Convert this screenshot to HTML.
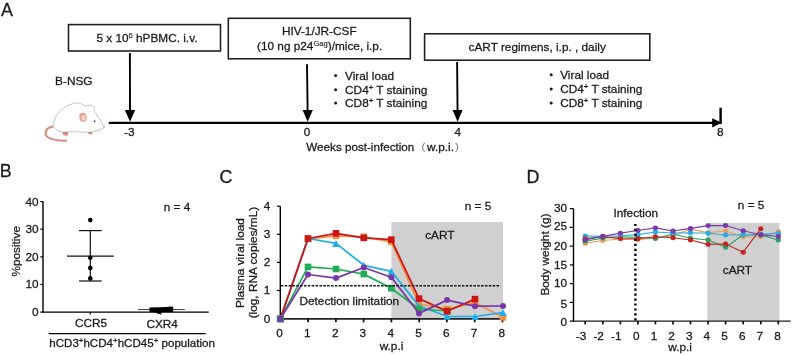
<!DOCTYPE html>
<html><head><meta charset="utf-8"><style>
html,body{margin:0;padding:0;background:#fff;}
svg{display:block;font-family:"Liberation Sans", sans-serif;will-change:transform;} text{stroke:#1a1a1a;stroke-width:0.28px;}
</style></head><body>
<svg width="792" height="355" viewBox="0 0 792 355">
<text x="1" y="15.8" font-size="17.9" fill="#1a1a1a">A</text>
<rect x="68.5" y="24.6" width="152" height="26.4" fill="none" stroke="#222" stroke-width="1.6"/>
<rect x="228.3" y="18.3" width="182" height="40.5" fill="none" stroke="#222" stroke-width="1.6"/>
<rect x="424.6" y="33.8" width="225.2" height="26.4" fill="none" stroke="#222" stroke-width="1.6"/>
<text x="96.4" y="41.9" font-size="11.8" fill="#1a1a1a">5 x 10<tspan font-size="7.6" dy="-4" stroke-width="0.12">6</tspan><tspan dy="4"> hPBMC. i.v.</tspan></text>
<text x="319.3" y="35.2" font-size="11.8" fill="#1a1a1a" text-anchor="middle">HIV-1/JR-CSF</text>
<text x="257" y="50.3" font-size="11.8" fill="#1a1a1a">(10 ng p24<tspan font-size="7.6" dy="-4" stroke-width="0.12">Gag</tspan><tspan dy="4">)/mice, i.p.</tspan></text>
<text x="537.2" y="51.2" font-size="11.8" fill="#1a1a1a" text-anchor="middle">cART regimens, i.p. , daily</text>
<line x1="129.9" y1="53" x2="130" y2="116" stroke="#000" stroke-width="1.9"/>
<polygon points="124.9,110.1 135.1,110.1 130,121.8" fill="#000"/>
<line x1="307" y1="64.3" x2="307.7" y2="116" stroke="#000" stroke-width="1.9"/>
<polygon points="302.59999999999997,110.1 312.8,110.1 307.7,121.8" fill="#000"/>
<line x1="457.1" y1="61.9" x2="457.6" y2="116" stroke="#000" stroke-width="1.9"/>
<polygon points="452.5,110.1 462.70000000000005,110.1 457.6,121.8" fill="#000"/>
<line x1="108.8" y1="122.9" x2="714" y2="122.9" stroke="#000" stroke-width="2.3"/>
<polygon points="712.2,118.2 721.8,122.8 712.2,127.6" fill="#000"/>
<line x1="720.6" y1="107.7" x2="720.6" y2="124" stroke="#000" stroke-width="2.4"/>
<text x="129.3" y="136.3" font-size="11.8" fill="#1a1a1a" text-anchor="middle">-3</text>
<text x="307" y="136.3" font-size="11.8" fill="#1a1a1a" text-anchor="middle">0</text>
<text x="457.8" y="136.3" font-size="11.8" fill="#1a1a1a" text-anchor="middle">4</text>
<text x="720.3" y="136.3" font-size="11.8" fill="#1a1a1a" text-anchor="middle">8</text>
<text x="306.3" y="151" font-size="11.66" fill="#1a1a1a">Weeks post-infection</text>
<path d="M424.6,142.9 Q420.6,147.3 424.6,151.7" fill="none" stroke="#444" stroke-width="0.8"/>
<text x="427.1" y="151" font-size="11.8" fill="#1a1a1a">w.p.i.</text>
<path d="M455.8,142.9 Q459.8,147.3 455.8,151.7" fill="none" stroke="#444" stroke-width="0.8"/>
<circle cx="335.6" cy="75.6" r="1.5" fill="#1a1a1a"/>
<text x="345.1" y="79.8" font-size="11.8" fill="#1a1a1a">Viral load</text>
<circle cx="335.6" cy="89.7" r="1.5" fill="#1a1a1a"/>
<text x="345.1" y="93.9" font-size="11.8" fill="#1a1a1a">CD4<tspan font-size="7.8" dy="-4" stroke-width="0.3">+</tspan><tspan dy="4"> T staining</tspan></text>
<circle cx="335.6" cy="103.1" r="1.5" fill="#1a1a1a"/>
<text x="345.1" y="107.3" font-size="11.8" fill="#1a1a1a">CD8<tspan font-size="7.8" dy="-4" stroke-width="0.3">+</tspan><tspan dy="4"> T staining</tspan></text>
<circle cx="551.2" cy="74.8" r="1.5" fill="#1a1a1a"/>
<text x="560.2" y="79.0" font-size="11.8" fill="#1a1a1a">Viral load</text>
<circle cx="551.2" cy="88.89999999999999" r="1.5" fill="#1a1a1a"/>
<text x="560.2" y="93.1" font-size="11.8" fill="#1a1a1a">CD4<tspan font-size="7.8" dy="-4" stroke-width="0.3">+</tspan><tspan dy="4"> T staining</tspan></text>
<circle cx="551.2" cy="103.0" r="1.5" fill="#1a1a1a"/>
<text x="560.2" y="107.2" font-size="11.8" fill="#1a1a1a">CD8<tspan font-size="7.8" dy="-4" stroke-width="0.3">+</tspan><tspan dy="4"> T staining</tspan></text>
<text x="55.1" y="84.8" font-size="11.8" fill="#1a1a1a">B-NSG</text>
<g>
<path d="M53.6,126.2 C49,127 45.2,129.5 45.6,134 C46,138.6 53,140.3 66.3,140.8" fill="none" stroke="#d8897c" stroke-width="2" stroke-linecap="round"/>
<path d="M53,126.5 C53.4,121 56,115 59.8,111.2 C63,108 68,104.5 75.7,103 C79,102.6 82,103.8 85.5,106 C87.3,105.6 88.5,105 90.2,105.1 C92.6,105.2 94.4,106.8 94.3,108.6 C94.2,110 94,111 94.2,111.4 C96.5,114 100.5,120 102.9,124.5 C103.8,125.5 104.6,126.2 104.4,127 C104,128 103,128.5 102.2,128.7 C100,129.8 97.5,130.5 95.6,130.8 C93.5,131.5 92.6,132 91,132.1 C88,132.3 86,132.1 83.7,132.1 C78,132 73,131.6 69.1,131.7 C66,131.9 64.5,132.2 63.2,132.1 C60,131.8 57.5,130.8 55.9,129.1 C54.5,128.2 53.5,127.4 53,126.5 Z" fill="#fff" stroke="#8c8c8c" stroke-width="0.5"/>
<ellipse cx="83" cy="117.3" rx="3.7" ry="4.5" fill="#e4a292" transform="rotate(-8 83 117.3)"/>
<ellipse cx="83.5" cy="117.8" rx="2.1" ry="2.7" fill="#f2d4bf"/>
<circle cx="94.6" cy="121.2" r="0.95" fill="#3d5f70"/>
<path d="M62.6,132 C62.2,134.3 63.8,135.9 66.3,135.7 C68.2,135.5 68.4,133 67.6,132 Z" fill="#d88b7c"/>
<path d="M87.6,132 C87.6,133.6 89.2,134.5 91.6,134.3 C92.6,134.1 92.8,132.8 92.2,132 Z" fill="#d88b7c"/>
<circle cx="104" cy="126.8" r="0.9" fill="#e2a090"/>
<path d="M97.5,129.5 L100.5,132.5 M99.3,129.6 L101.8,133 M96.8,131 L99,133.6" stroke="#c4c4c4" stroke-width="0.4"/>
</g>
<text x="-0.3" y="177" font-size="17.9" fill="#1a1a1a">B</text>
<line x1="43" y1="201.5" x2="43" y2="312.8" stroke="#000" stroke-width="1.4"/>
<line x1="42.3" y1="312.1" x2="208.8" y2="312.1" stroke="#000" stroke-width="1.4"/>
<line x1="40.3" y1="312.1" x2="43" y2="312.1" stroke="#000" stroke-width="1.2"/>
<text x="38.5" y="316.0" font-size="11.8" fill="#1a1a1a" text-anchor="end">0</text>
<line x1="40.3" y1="284.5" x2="43" y2="284.5" stroke="#000" stroke-width="1.2"/>
<text x="38.5" y="288.4" font-size="11.8" fill="#1a1a1a" text-anchor="end">10</text>
<line x1="40.3" y1="256.9" x2="43" y2="256.9" stroke="#000" stroke-width="1.2"/>
<text x="38.5" y="260.8" font-size="11.8" fill="#1a1a1a" text-anchor="end">20</text>
<line x1="40.3" y1="229.2" x2="43" y2="229.2" stroke="#000" stroke-width="1.2"/>
<text x="38.5" y="233.1" font-size="11.8" fill="#1a1a1a" text-anchor="end">30</text>
<line x1="40.3" y1="201.6" x2="43" y2="201.6" stroke="#000" stroke-width="1.2"/>
<text x="38.5" y="205.5" font-size="11.8" fill="#1a1a1a" text-anchor="end">40</text>
<text transform="translate(20.3,251.3) rotate(-90)" font-size="11.8" fill="#1a1a1a" text-anchor="middle">%positive</text>
<text x="190.3" y="211.3" font-size="11.8" fill="#1a1a1a" text-anchor="end">n = 4</text>
<line x1="90.3" y1="312" x2="90.3" y2="314.6" stroke="#000" stroke-width="1.2"/>
<line x1="160.8" y1="312" x2="160.8" y2="314.6" stroke="#000" stroke-width="1.2"/>
<text x="91" y="327.3" font-size="11.8" fill="#1a1a1a" text-anchor="middle">CCR5</text>
<text x="162.2" y="327.5" font-size="11.8" fill="#1a1a1a" text-anchor="middle">CXR4</text>
<line x1="48.8" y1="333.7" x2="205.6" y2="333.7" stroke="#000" stroke-width="1.3"/>
<text x="49.2" y="346.6" font-size="11.6" fill="#1a1a1a">hCD3<tspan font-size="7.8" dy="-4" stroke-width="0.3">+</tspan><tspan dy="4">hCD4</tspan><tspan font-size="7.8" dy="-4" stroke-width="0.3">+</tspan><tspan dy="4">hCD45</tspan><tspan font-size="7.8" dy="-4" stroke-width="0.3">+</tspan><tspan dy="4"> population</tspan></text>
<line x1="67" y1="256.1" x2="113.8" y2="256.1" stroke="#111" stroke-width="1.2"/>
<line x1="79" y1="230.6" x2="101.7" y2="230.6" stroke="#111" stroke-width="1.2"/>
<line x1="79" y1="281" x2="101.7" y2="281" stroke="#111" stroke-width="1.2"/>
<line x1="90.3" y1="230.6" x2="90.3" y2="281" stroke="#111" stroke-width="1.2"/>
<circle cx="90.3" cy="220.1" r="2.3" fill="#000"/>
<circle cx="90.3" cy="257.8" r="2.3" fill="#000"/>
<circle cx="90.3" cy="267.9" r="2.3" fill="#000"/>
<circle cx="90.3" cy="278.4" r="2.3" fill="#000"/>
<line x1="138" y1="309.5" x2="184.8" y2="309.5" stroke="#444" stroke-width="1.1"/>
<path d="M149.4,307.6 L160,307.3 L166,306.9 L171,306.5 L173.2,306.7 L173.2,312 L149.4,312 Z" fill="#000"/>
<path d="M155,312 L160.5,312 L160,314 L157,313.4 Z" fill="#000"/>
<text x="219.5" y="182.6" font-size="17.9" fill="#1a1a1a">C</text>
<rect x="391.4" y="222.1" width="111.6" height="97.1" fill="#d0d0d0"/>
<line x1="280.3" y1="206.20000000000002" x2="280.3" y2="319.3" stroke="#000" stroke-width="1.4"/>
<line x1="279.6" y1="318.90000000000003" x2="503.5" y2="318.90000000000003" stroke="#222" stroke-width="1.9"/>
<line x1="276.9" y1="318.6" x2="280.3" y2="318.6" stroke="#000" stroke-width="1.2"/>
<text x="270.4" y="322.5" font-size="11.8" fill="#1a1a1a" text-anchor="end">0</text>
<line x1="276.9" y1="290.5" x2="280.3" y2="290.5" stroke="#000" stroke-width="1.2"/>
<text x="270.4" y="294.4" font-size="11.8" fill="#1a1a1a" text-anchor="end">1</text>
<line x1="276.9" y1="262.4" x2="280.3" y2="262.4" stroke="#000" stroke-width="1.2"/>
<text x="270.4" y="266.3" font-size="11.8" fill="#1a1a1a" text-anchor="end">2</text>
<line x1="276.9" y1="234.3" x2="280.3" y2="234.3" stroke="#000" stroke-width="1.2"/>
<text x="270.4" y="238.2" font-size="11.8" fill="#1a1a1a" text-anchor="end">3</text>
<line x1="276.9" y1="206.2" x2="280.3" y2="206.2" stroke="#000" stroke-width="1.2"/>
<text x="270.4" y="210.1" font-size="11.8" fill="#1a1a1a" text-anchor="end">4</text>
<line x1="280.3" y1="318.6" x2="280.3" y2="322.3" stroke="#111" stroke-width="1.8"/>
<text x="279.6" y="336.9" font-size="11.8" fill="#1a1a1a" text-anchor="middle">0</text>
<line x1="308.1" y1="318.6" x2="308.1" y2="322.3" stroke="#111" stroke-width="1.8"/>
<text x="307.4" y="336.9" font-size="11.8" fill="#1a1a1a" text-anchor="middle">1</text>
<line x1="335.9" y1="318.6" x2="335.9" y2="322.3" stroke="#111" stroke-width="1.8"/>
<text x="335.2" y="336.9" font-size="11.8" fill="#1a1a1a" text-anchor="middle">2</text>
<line x1="363.6" y1="318.6" x2="363.6" y2="322.3" stroke="#111" stroke-width="1.8"/>
<text x="362.9" y="336.9" font-size="11.8" fill="#1a1a1a" text-anchor="middle">3</text>
<line x1="391.4" y1="318.6" x2="391.4" y2="322.3" stroke="#111" stroke-width="1.8"/>
<text x="390.7" y="336.9" font-size="11.8" fill="#1a1a1a" text-anchor="middle">4</text>
<line x1="419.2" y1="318.6" x2="419.2" y2="322.3" stroke="#111" stroke-width="1.8"/>
<text x="418.5" y="336.9" font-size="11.8" fill="#1a1a1a" text-anchor="middle">5</text>
<line x1="446.9" y1="318.6" x2="446.9" y2="322.3" stroke="#111" stroke-width="1.8"/>
<text x="446.2" y="336.9" font-size="11.8" fill="#1a1a1a" text-anchor="middle">6</text>
<line x1="474.7" y1="318.6" x2="474.7" y2="322.3" stroke="#111" stroke-width="1.8"/>
<text x="474.0" y="336.9" font-size="11.8" fill="#1a1a1a" text-anchor="middle">7</text>
<line x1="502.5" y1="318.6" x2="502.5" y2="322.3" stroke="#111" stroke-width="1.8"/>
<text x="501.8" y="336.9" font-size="11.8" fill="#1a1a1a" text-anchor="middle">8</text>
<text x="391.5" y="349.6" font-size="11.8" fill="#1a1a1a" text-anchor="middle">w.p.i</text>
<text transform="translate(243.5,263) rotate(-90)" font-size="11.8" fill="#1a1a1a" text-anchor="middle">Plasma viral load</text>
<text transform="translate(257.0,262.6) rotate(-90)" font-size="11.8" fill="#1a1a1a" text-anchor="middle">(log, RNA copies/mL)</text>
<text x="299.5" y="305.1" font-size="11.8" fill="#1a1a1a">Detection limitation</text>
<text x="491.3" y="210" font-size="11.8" fill="#1a1a1a" text-anchor="end">n = 5</text>
<text x="425.2" y="239" font-size="11.8" fill="#1a1a1a">cART</text>
<polyline points="280.4,318.8 308.0,238.8 336.0,235.9 363.8,236.8 391.3,241.8 419.0,304.0 447.0,309.0 475.0,302.8 503.0,317.3" fill="none" stroke="#f29040" stroke-width="1.75" stroke-linejoin="round"/>
<rect x="304.7" y="235.5" width="6.6" height="6.6" fill="#f29040"/>
<rect x="332.7" y="232.6" width="6.6" height="6.6" fill="#f29040"/>
<rect x="360.5" y="233.5" width="6.6" height="6.6" fill="#f29040"/>
<rect x="388.0" y="238.5" width="6.6" height="6.6" fill="#f29040"/>
<rect x="415.7" y="300.7" width="6.6" height="6.6" fill="#f29040"/>
<rect x="443.7" y="305.7" width="6.6" height="6.6" fill="#f29040"/>
<rect x="471.7" y="299.5" width="6.6" height="6.6" fill="#f29040"/>
<rect x="499.7" y="314.0" width="6.6" height="6.6" fill="#f29040"/>
<polyline points="280.4,318.8 308.0,238.5 336.0,243.4 363.8,265.3 391.3,271.3 419.0,306.0 447.0,316.3 475.0,316.5 503.0,312.5" fill="none" stroke="#1eaeea" stroke-width="1.75" stroke-linejoin="round"/>
<polygon points="304.3,242.0 311.7,242.0 308.0,235.0" fill="#1eaeea"/>
<polygon points="332.3,246.9 339.7,246.9 336.0,239.9" fill="#1eaeea"/>
<polygon points="360.1,268.8 367.5,268.8 363.8,261.8" fill="#1eaeea"/>
<polygon points="387.6,274.8 395.0,274.8 391.3,267.8" fill="#1eaeea"/>
<polygon points="415.3,309.5 422.7,309.5 419.0,302.5" fill="#1eaeea"/>
<polygon points="443.3,319.8 450.7,319.8 447.0,312.8" fill="#1eaeea"/>
<polygon points="471.3,320.0 478.7,320.0 475.0,313.0" fill="#1eaeea"/>
<polygon points="499.3,316.0 506.7,316.0 503.0,309.0" fill="#1eaeea"/>
<polyline points="280.4,318.8 308.0,266.9 336.0,269.0 363.8,274.1 391.3,288.3 419.0,309.0 447.5,311.0" fill="none" stroke="#20ae55" stroke-width="1.75" stroke-linejoin="round"/>
<rect x="304.7" y="263.6" width="6.6" height="6.6" fill="#20ae55"/>
<rect x="332.7" y="265.7" width="6.6" height="6.6" fill="#20ae55"/>
<rect x="360.5" y="270.8" width="6.6" height="6.6" fill="#20ae55"/>
<rect x="388.0" y="285.0" width="6.6" height="6.6" fill="#20ae55"/>
<rect x="415.7" y="305.7" width="6.6" height="6.6" fill="#20ae55"/>
<rect x="444.2" y="307.7" width="6.6" height="6.6" fill="#20ae55"/>
<polyline points="280.4,318.8 308.0,238.5 336.0,233.3 363.8,237.9 391.3,239.6 419.0,298.6 447.0,311.2 475.0,299.1" fill="none" stroke="#cc1616" stroke-width="1.75" stroke-linejoin="round"/>
<rect x="304.7" y="235.2" width="6.6" height="6.6" fill="#cc1616"/>
<rect x="332.7" y="230.0" width="6.6" height="6.6" fill="#cc1616"/>
<rect x="360.5" y="234.6" width="6.6" height="6.6" fill="#cc1616"/>
<rect x="388.0" y="236.3" width="6.6" height="6.6" fill="#cc1616"/>
<rect x="415.7" y="295.3" width="6.6" height="6.6" fill="#cc1616"/>
<rect x="443.7" y="307.9" width="6.6" height="6.6" fill="#cc1616"/>
<rect x="471.7" y="295.8" width="6.6" height="6.6" fill="#cc1616"/>
<polyline points="280.4,318.8 308.0,274.5 336.0,278.1 363.8,267.5 391.3,277.3 419.0,313.4 447.0,300.1 475.0,306.2 503.0,306.0" fill="none" stroke="#7a36a8" stroke-width="1.75" stroke-linejoin="round"/>
<circle cx="308.0" cy="274.5" r="3.0" fill="#7a36a8"/>
<circle cx="336.0" cy="278.1" r="3.0" fill="#7a36a8"/>
<circle cx="363.8" cy="267.5" r="3.0" fill="#7a36a8"/>
<circle cx="391.3" cy="277.3" r="3.0" fill="#7a36a8"/>
<circle cx="419.0" cy="313.4" r="3.0" fill="#7a36a8"/>
<circle cx="447.0" cy="300.1" r="3.0" fill="#7a36a8"/>
<circle cx="475.0" cy="306.2" r="3.0" fill="#7a36a8"/>
<circle cx="503.0" cy="306.0" r="3.0" fill="#7a36a8"/>
<line x1="280.90000000000003" y1="285.8" x2="500.5" y2="285.8" stroke="#151515" stroke-width="1.6" stroke-dasharray="2.5,1.35"/>
<rect x="276.8" y="315.2" width="7.3" height="7.3" fill="#20ae55"/>
<rect x="277.5" y="315.9" width="5.9" height="5.9" fill="#7a36a8"/>
<text x="526.5" y="182.9" font-size="17.9" fill="#1a1a1a">D</text>
<rect x="707.3" y="222.9" width="72.0" height="98.2" fill="#d0d0d0"/>
<line x1="573.5" y1="208.60000000000002" x2="573.5" y2="321.8" stroke="#000" stroke-width="1.4"/>
<line x1="572.8" y1="321.1" x2="790.7" y2="321.1" stroke="#1a1a1a" stroke-width="1.3"/>
<line x1="569.8" y1="321.1" x2="573.5" y2="321.1" stroke="#000" stroke-width="1.2"/>
<text x="567.0" y="325.7" font-size="11.8" fill="#1a1a1a" text-anchor="end">0</text>
<line x1="569.8" y1="302.4" x2="573.5" y2="302.4" stroke="#000" stroke-width="1.2"/>
<text x="567.0" y="307.8" font-size="11.8" fill="#1a1a1a" text-anchor="end">5</text>
<line x1="569.8" y1="283.6" x2="573.5" y2="283.6" stroke="#000" stroke-width="1.2"/>
<text x="567.0" y="287.1" font-size="11.8" fill="#1a1a1a" text-anchor="end">10</text>
<line x1="569.8" y1="264.9" x2="573.5" y2="264.9" stroke="#000" stroke-width="1.2"/>
<text x="567.0" y="269.1" font-size="11.8" fill="#1a1a1a" text-anchor="end">15</text>
<line x1="569.8" y1="246.1" x2="573.5" y2="246.1" stroke="#000" stroke-width="1.2"/>
<text x="567.0" y="249.6" font-size="11.8" fill="#1a1a1a" text-anchor="end">20</text>
<line x1="569.8" y1="227.4" x2="573.5" y2="227.4" stroke="#000" stroke-width="1.2"/>
<text x="567.0" y="230.2" font-size="11.8" fill="#1a1a1a" text-anchor="end">25</text>
<line x1="569.8" y1="208.6" x2="573.5" y2="208.6" stroke="#000" stroke-width="1.2"/>
<text x="567.0" y="211.9" font-size="11.8" fill="#1a1a1a" text-anchor="end">30</text>
<line x1="585.2" y1="321.1" x2="585.2" y2="324.4" stroke="#111" stroke-width="1.7"/>
<text x="581.0" y="340.4" font-size="11.8" fill="#1a1a1a" text-anchor="middle">-3</text>
<line x1="602.8" y1="321.1" x2="602.8" y2="324.4" stroke="#111" stroke-width="1.7"/>
<text x="598.7" y="340.4" font-size="11.8" fill="#1a1a1a" text-anchor="middle">-2</text>
<line x1="620.4" y1="321.1" x2="620.4" y2="324.4" stroke="#111" stroke-width="1.7"/>
<text x="616.3" y="340.4" font-size="11.8" fill="#1a1a1a" text-anchor="middle">-1</text>
<line x1="637.9" y1="321.1" x2="637.9" y2="324.4" stroke="#111" stroke-width="1.7"/>
<text x="636.3" y="340.4" font-size="11.8" fill="#1a1a1a" text-anchor="middle">0</text>
<line x1="655.4" y1="321.1" x2="655.4" y2="324.4" stroke="#111" stroke-width="1.7"/>
<text x="654.0" y="340.4" font-size="11.8" fill="#1a1a1a" text-anchor="middle">1</text>
<line x1="673.0" y1="321.1" x2="673.0" y2="324.4" stroke="#111" stroke-width="1.7"/>
<text x="671.6" y="340.4" font-size="11.8" fill="#1a1a1a" text-anchor="middle">2</text>
<line x1="690.5" y1="321.1" x2="690.5" y2="324.4" stroke="#111" stroke-width="1.7"/>
<text x="689.3" y="340.4" font-size="11.8" fill="#1a1a1a" text-anchor="middle">3</text>
<line x1="708.1" y1="321.1" x2="708.1" y2="324.4" stroke="#111" stroke-width="1.7"/>
<text x="706.9" y="340.4" font-size="11.8" fill="#1a1a1a" text-anchor="middle">4</text>
<line x1="725.6" y1="321.1" x2="725.6" y2="324.4" stroke="#111" stroke-width="1.7"/>
<text x="724.6" y="340.4" font-size="11.8" fill="#1a1a1a" text-anchor="middle">5</text>
<line x1="743.2" y1="321.1" x2="743.2" y2="324.4" stroke="#111" stroke-width="1.7"/>
<text x="742.3" y="340.4" font-size="11.8" fill="#1a1a1a" text-anchor="middle">6</text>
<line x1="760.8" y1="321.1" x2="760.8" y2="324.4" stroke="#111" stroke-width="1.7"/>
<text x="759.9" y="340.4" font-size="11.8" fill="#1a1a1a" text-anchor="middle">7</text>
<line x1="778.3" y1="321.1" x2="778.3" y2="324.4" stroke="#111" stroke-width="1.7"/>
<text x="777.6" y="340.4" font-size="11.8" fill="#1a1a1a" text-anchor="middle">8</text>
<text x="680.1" y="350.5" font-size="11.8" fill="#1a1a1a" text-anchor="middle">w.p.i</text>
<text transform="translate(548.6,254.6) rotate(-90)" font-size="11.8" fill="#1a1a1a" text-anchor="middle">Body weight (g)</text>
<text x="613.5" y="216.8" font-size="11.8" fill="#1a1a1a">Infection</text>
<text x="764.4" y="208.5" font-size="11.8" fill="#1a1a1a" text-anchor="end">n = 5</text>
<text x="722.8" y="274.3" font-size="11.8" fill="#1a1a1a">cART</text>
<polyline points="585.2,243.4 602.8,240.5 620.4,239.0 637.9,239.5 655.4,238.2 673.0,235.7 690.5,229.1 708.1,232.6 725.6,231.0 743.2,237.1 760.8,236.8 778.3,231.5" fill="none" stroke="#eb9c5c" stroke-width="1.1" stroke-linejoin="round"/>
<ellipse cx="585.2" cy="243.4" rx="2.65" ry="2.45" fill="#eb9c5c"/>
<ellipse cx="602.8" cy="240.5" rx="2.65" ry="2.45" fill="#eb9c5c"/>
<ellipse cx="620.4" cy="239.0" rx="2.65" ry="2.45" fill="#eb9c5c"/>
<ellipse cx="637.9" cy="239.5" rx="2.65" ry="2.45" fill="#eb9c5c"/>
<ellipse cx="655.4" cy="238.2" rx="2.65" ry="2.45" fill="#eb9c5c"/>
<ellipse cx="673.0" cy="235.7" rx="2.65" ry="2.45" fill="#eb9c5c"/>
<ellipse cx="690.5" cy="229.1" rx="2.65" ry="2.45" fill="#eb9c5c"/>
<ellipse cx="708.1" cy="232.6" rx="2.65" ry="2.45" fill="#eb9c5c"/>
<ellipse cx="725.6" cy="231.0" rx="2.65" ry="2.45" fill="#eb9c5c"/>
<ellipse cx="743.2" cy="237.1" rx="2.65" ry="2.45" fill="#eb9c5c"/>
<ellipse cx="760.8" cy="236.8" rx="2.65" ry="2.45" fill="#eb9c5c"/>
<ellipse cx="778.3" cy="231.5" rx="2.65" ry="2.45" fill="#eb9c5c"/>
<polyline points="585.2,241.2 602.8,238.1 620.4,236.8 637.9,237.4 655.4,238.5 673.0,234.0 690.5,238.2 708.1,240.0 725.6,247.3 743.2,234.7 760.8,235.0 778.3,240.0" fill="none" stroke="#28a25e" stroke-width="1.1" stroke-linejoin="round"/>
<ellipse cx="585.2" cy="241.2" rx="2.65" ry="2.45" fill="#28a25e"/>
<ellipse cx="602.8" cy="238.1" rx="2.65" ry="2.45" fill="#28a25e"/>
<ellipse cx="620.4" cy="236.8" rx="2.65" ry="2.45" fill="#28a25e"/>
<ellipse cx="637.9" cy="237.4" rx="2.65" ry="2.45" fill="#28a25e"/>
<ellipse cx="655.4" cy="238.5" rx="2.65" ry="2.45" fill="#28a25e"/>
<ellipse cx="673.0" cy="234.0" rx="2.65" ry="2.45" fill="#28a25e"/>
<ellipse cx="690.5" cy="238.2" rx="2.65" ry="2.45" fill="#28a25e"/>
<ellipse cx="708.1" cy="240.0" rx="2.65" ry="2.45" fill="#28a25e"/>
<ellipse cx="725.6" cy="247.3" rx="2.65" ry="2.45" fill="#28a25e"/>
<ellipse cx="743.2" cy="234.7" rx="2.65" ry="2.45" fill="#28a25e"/>
<ellipse cx="760.8" cy="235.0" rx="2.65" ry="2.45" fill="#28a25e"/>
<ellipse cx="778.3" cy="240.0" rx="2.65" ry="2.45" fill="#28a25e"/>
<polyline points="585.2,235.9 602.8,236.4 620.4,235.7 637.9,234.6 655.4,232.0 673.0,233.0 690.5,232.7 708.1,233.2 725.6,235.0 743.2,234.7 760.8,234.2 778.3,233.4" fill="none" stroke="#28aee6" stroke-width="1.1" stroke-linejoin="round"/>
<ellipse cx="585.2" cy="235.9" rx="2.65" ry="2.45" fill="#28aee6"/>
<ellipse cx="602.8" cy="236.4" rx="2.65" ry="2.45" fill="#28aee6"/>
<ellipse cx="620.4" cy="235.7" rx="2.65" ry="2.45" fill="#28aee6"/>
<ellipse cx="637.9" cy="234.6" rx="2.65" ry="2.45" fill="#28aee6"/>
<ellipse cx="655.4" cy="232.0" rx="2.65" ry="2.45" fill="#28aee6"/>
<ellipse cx="673.0" cy="233.0" rx="2.65" ry="2.45" fill="#28aee6"/>
<ellipse cx="690.5" cy="232.7" rx="2.65" ry="2.45" fill="#28aee6"/>
<ellipse cx="708.1" cy="233.2" rx="2.65" ry="2.45" fill="#28aee6"/>
<ellipse cx="725.6" cy="235.0" rx="2.65" ry="2.45" fill="#28aee6"/>
<ellipse cx="743.2" cy="234.7" rx="2.65" ry="2.45" fill="#28aee6"/>
<ellipse cx="760.8" cy="234.2" rx="2.65" ry="2.45" fill="#28aee6"/>
<ellipse cx="778.3" cy="233.4" rx="2.65" ry="2.45" fill="#28aee6"/>
<polyline points="585.2,238.6 602.8,236.8 620.4,238.6 637.9,238.7 655.4,236.7 673.0,237.7 690.5,240.0 708.1,244.4 725.6,244.0 743.2,252.2 760.8,228.7" fill="none" stroke="#c42626" stroke-width="1.1" stroke-linejoin="round"/>
<ellipse cx="585.2" cy="238.6" rx="2.65" ry="2.45" fill="#c42626"/>
<ellipse cx="602.8" cy="236.8" rx="2.65" ry="2.45" fill="#c42626"/>
<ellipse cx="620.4" cy="238.6" rx="2.65" ry="2.45" fill="#c42626"/>
<ellipse cx="637.9" cy="238.7" rx="2.65" ry="2.45" fill="#c42626"/>
<ellipse cx="655.4" cy="236.7" rx="2.65" ry="2.45" fill="#c42626"/>
<ellipse cx="673.0" cy="237.7" rx="2.65" ry="2.45" fill="#c42626"/>
<ellipse cx="690.5" cy="240.0" rx="2.65" ry="2.45" fill="#c42626"/>
<ellipse cx="708.1" cy="244.4" rx="2.65" ry="2.45" fill="#c42626"/>
<ellipse cx="725.6" cy="244.0" rx="2.65" ry="2.45" fill="#c42626"/>
<ellipse cx="743.2" cy="252.2" rx="2.65" ry="2.45" fill="#c42626"/>
<ellipse cx="760.8" cy="228.7" rx="2.65" ry="2.45" fill="#c42626"/>
<polyline points="585.2,239.9 602.8,236.2 620.4,233.1 637.9,230.5 655.4,227.9 673.0,231.0 690.5,228.4 708.1,225.6 725.6,225.5 743.2,230.7 760.8,234.7 778.3,236.5" fill="none" stroke="#7a3aa8" stroke-width="1.1" stroke-linejoin="round"/>
<ellipse cx="585.2" cy="239.9" rx="2.65" ry="2.45" fill="#7a3aa8"/>
<ellipse cx="602.8" cy="236.2" rx="2.65" ry="2.45" fill="#7a3aa8"/>
<ellipse cx="620.4" cy="233.1" rx="2.65" ry="2.45" fill="#7a3aa8"/>
<ellipse cx="637.9" cy="230.5" rx="2.65" ry="2.45" fill="#7a3aa8"/>
<ellipse cx="655.4" cy="227.9" rx="2.65" ry="2.45" fill="#7a3aa8"/>
<ellipse cx="673.0" cy="231.0" rx="2.65" ry="2.45" fill="#7a3aa8"/>
<ellipse cx="690.5" cy="228.4" rx="2.65" ry="2.45" fill="#7a3aa8"/>
<ellipse cx="708.1" cy="225.6" rx="2.65" ry="2.45" fill="#7a3aa8"/>
<ellipse cx="725.6" cy="225.5" rx="2.65" ry="2.45" fill="#7a3aa8"/>
<ellipse cx="743.2" cy="230.7" rx="2.65" ry="2.45" fill="#7a3aa8"/>
<ellipse cx="760.8" cy="234.7" rx="2.65" ry="2.45" fill="#7a3aa8"/>
<ellipse cx="778.3" cy="236.5" rx="2.65" ry="2.45" fill="#7a3aa8"/>
<line x1="635.4" y1="223.9" x2="635.4" y2="321" stroke="#000" stroke-width="2.4" stroke-dasharray="2.2,2.77"/>
</svg>
</body></html>
